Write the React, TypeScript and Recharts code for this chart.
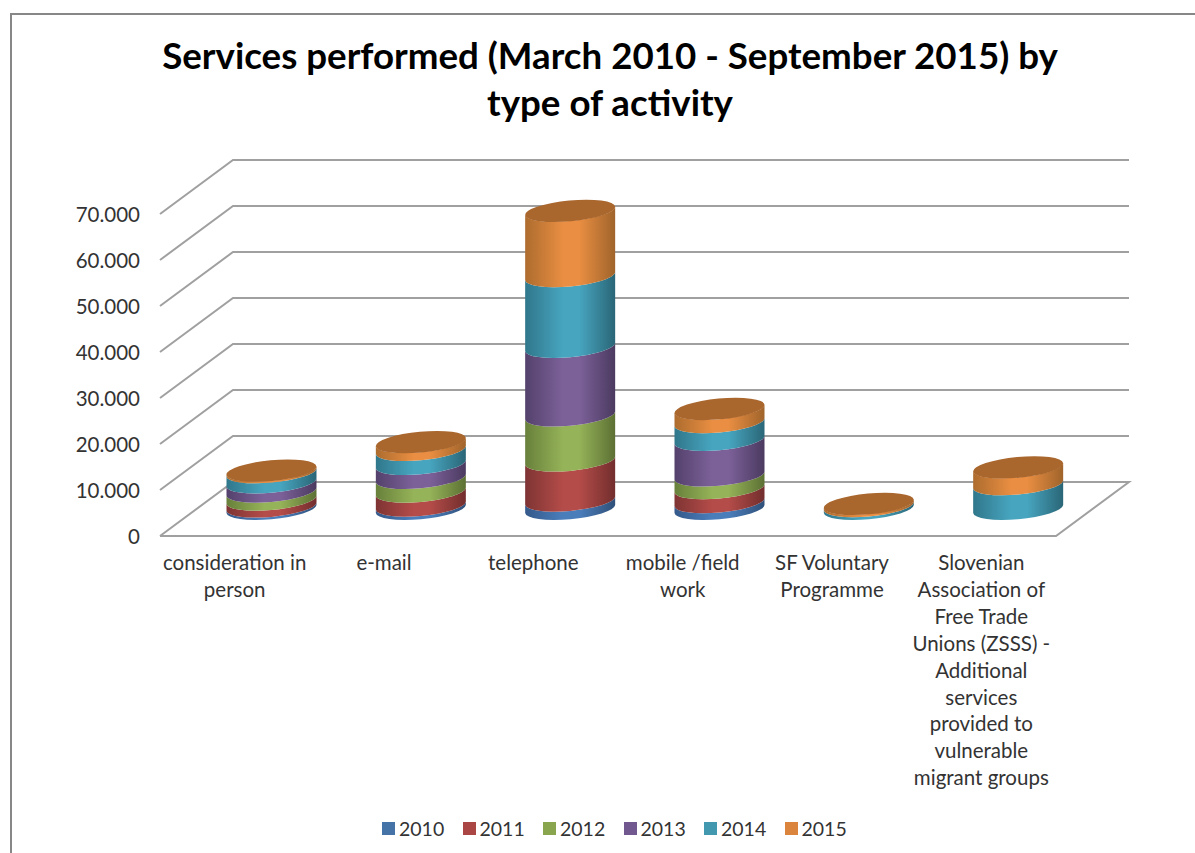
import React from "react";
import { BarChart, Bar, XAxis, YAxis, CartesianGrid, Legend } from "recharts";

const categories = [
  "consideration in person",
  "e-mail",
  "telephone",
  "mobile /field work",
  "SF Voluntary Programme",
  "Slovenian Association of Free Trade Unions (ZSSS) - Additional services provided to vulnerable migrant groups",
];
const categoryLines = [
  ["consideration in", "person"],
  ["e-mail"],
  ["telephone"],
  ["mobile /field", "work"],
  ["SF Voluntary", "Programme"],
  ["Slovenian", "Association of", "Free Trade", "Unions (ZSSS) -", "Additional", "services", "provided to", "vulnerable", "migrant groups"],
];

const values2010 = [500, 700, 1800, 1450, 0, 0];
const values2011 = [1500, 3050, 8700, 3050, 0, 0];
const values2012 = [1750, 2950, 9800, 2750, 0, 0];
const values2013 = [2000, 3050, 14900, 7750, 0, 0];
const values2014 = [2200, 3050, 15400, 3850, 600, 5350];
const values2015 = [400, 1750, 14200, 2900, 500, 3700];

const yTicks = [0, 10000, 20000, 30000, 40000, 50000, 60000, 70000];

const rows = categories.map((name, i) => ({
  name,
  y2010: values2010[i],
  y2011: values2011[i],
  y2012: values2012[i],
  y2013: values2013[i],
  y2014: values2014[i],
  y2015: values2015[i],
}));

const seriesKeys = ["y2010", "y2011", "y2012", "y2013", "y2014", "y2015"];
const seriesNames = ["2010", "2011", "2012", "2013", "2014", "2015"];
const legendColors = ["#4572A7", "#AA4643", "#89A54E", "#71588F", "#4198AF", "#DB843D"];
const brightColors = ["#4A7EBB", "#B44C49", "#95B358", "#7C6199", "#47A5BF", "#E98E42"];
const leftEdgeColors = ["#35598A", "#7E3433", "#68803B", "#54416C", "#30778B", "#AD6C2E"];
const rightEdgeColors = ["#2F5079", "#722E2D", "#5C7034", "#4B3A60", "#2A6677", "#A0642B"];
const capColor = "#A9662D";

// Oblique offset of the floor's depth, and the tilted ellipse of a cylinder's end.
const DEPTH_X = 73;
const DEPTH_Y = 54;
const HALF_WIDTH = 45;
const TIP_RISE = 4;
const RX = 45.2;
const RY = 10.4;
const TILT = -5.35;

const FONT = "Lato, 'Open Sans', sans-serif";
const TEXT_COLOR = "#333333";
const GRID_COLOR = "#A0A0A0";

function cylinderShape(seriesIndex: number) {
  return (props: any) => {
    const { x, y, width, height } = props;
    const cx = x + width / 2 + DEPTH_X / 2;
    const top = y - DEPTH_Y / 2;
    const bottom = y + height - DEPTH_Y / 2;
    const side =
      `M ${cx - HALF_WIDTH} ${bottom + TIP_RISE} ` +
      `A ${RX} ${RY} ${TILT} 0 0 ${cx + HALF_WIDTH} ${bottom - TIP_RISE} ` +
      `L ${cx + HALF_WIDTH} ${top - TIP_RISE} ` +
      `A ${RX} ${RY} ${TILT} 0 1 ${cx - HALF_WIDTH} ${top + TIP_RISE} Z`;
    return (
      <g>
        <path d={side} fill={`url(#cyl${seriesIndex})`} />
        {seriesIndex === seriesKeys.length - 1 && (
          <ellipse
            cx={cx}
            cy={top}
            rx={RX}
            ry={RY}
            fill={capColor}
            transform={`rotate(${TILT} ${cx} ${top})`}
          />
        )}
      </g>
    );
  };
}

// Each horizontal grid entry runs up the side wall and along the back wall;
// the zero line also closes the front and right edges of the floor.
function gridLine(props: any) {
  const { x1, x2, y1, y, height, index } = props;
  const isFloor = Math.abs(y1 - (y + height)) < 1;
  const backY = y1 - DEPTH_Y;
  const pts = [`${x1},${y1}`, `${x1 + DEPTH_X},${backY}`, `${x2 + DEPTH_X},${backY}`];
  if (isFloor) pts.push(`${x2},${y1}`, `${x1},${y1}`);
  return (
    <polyline
      key={`grid-${index}`}
      points={pts.join(" ")}
      fill="none"
      stroke={GRID_COLOR}
      strokeWidth={2}
    />
  );
}

function CategoryTick(props: any) {
  const { x, y, index } = props;
  return (
    <text textAnchor="middle" fontFamily={FONT} fontSize={20.5} fill={TEXT_COLOR}>
      {categoryLines[index].map((line, i) => (
        <tspan key={line} x={x} y={y + 26 + i * 26.9}>
          {line}
        </tspan>
      ))}
    </text>
  );
}

function LegendRow({ payload }: any) {
  return (
    <div style={{ display: "flex", fontFamily: FONT, fontSize: 19.5, color: TEXT_COLOR }}>
      {(payload || []).map((entry: any) => (
        <div key={entry.value} style={{ display: "flex", alignItems: "center", width: 80.5 }}>
          <span style={{ width: 13, height: 13, background: entry.color, marginRight: 4 }} />
          <span>{entry.value}</span>
        </div>
      ))}
    </div>
  );
}

export default function App() {
  return (
    <div
      style={{
        position: "absolute",
        left: 0,
        top: 0,
        width: 1195,
        height: 853,
        overflow: "hidden",
        background: "#fff",
      }}
    >
      <div
        style={{
          position: "absolute",
          left: 10,
          top: 13,
          width: 1300,
          height: 1000,
          borderLeft: "2px solid #878787",
          borderTop: "2px solid #878787",
        }}
      />
      <div
        style={{
          position: "absolute",
          left: 110,
          top: 32,
          width: 1000,
          textAlign: "center",
          fontFamily: FONT,
          fontWeight: 700,
          fontSize: 36.7,
          lineHeight: "47px",
          color: "#000",
        }}
      >
        Services performed (March 2010 - September 2015) by
        <br />
        type of activity
      </div>
      <BarChart
        width={1195}
        height={853}
        data={rows}
        margin={{ top: 214, right: 139, bottom: 57, left: 0 }}
        barSize={90}
      >
        <defs>
          {brightColors.map((c, i) => (
            <linearGradient key={c} id={`cyl${i}`} x1="0" y1="0" x2="1" y2="0">
              <stop offset="0" stopColor={leftEdgeColors[i]} />
              <stop offset="0.42" stopColor={c} />
              <stop offset="0.6" stopColor={c} />
              <stop offset="1" stopColor={rightEdgeColors[i]} />
            </linearGradient>
          ))}
        </defs>
        <CartesianGrid vertical={false} horizontal={gridLine} />
        <XAxis
          dataKey="name"
          interval={0}
          height={260}
          axisLine={false}
          tickLine={false}
          tick={CategoryTick}
        />
        <YAxis
          width={160}
          domain={[0, 70000]}
          ticks={yTicks}
          interval={0}
          axisLine={false}
          tickLine={false}
          tickMargin={14}
          tickFormatter={(v: number) => (v === 0 ? "0" : v.toLocaleString("de-DE"))}
          tick={{ fill: TEXT_COLOR, fontSize: 20.5, fontFamily: FONT, dy: 1 }}
        />
        <Legend
          layout="horizontal"
          align="center"
          verticalAlign="middle"
          content={<LegendRow />}
          wrapperStyle={{ left: 382, top: 817, width: 500 }}
        />
        {seriesKeys.map((key, i) => (
          <Bar
            key={key}
            dataKey={key}
            name={seriesNames[i]}
            stackId="services"
            fill={legendColors[i]}
            shape={cylinderShape(i)}
            isAnimationActive={false}
          />
        ))}
      </BarChart>
    </div>
  );
}
